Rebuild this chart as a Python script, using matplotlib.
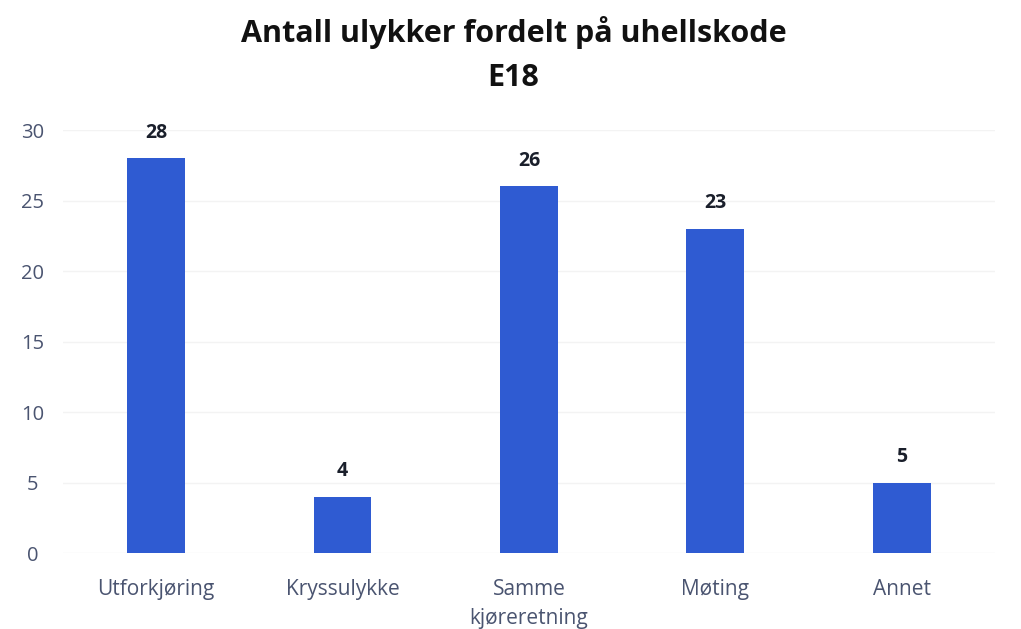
import matplotlib
matplotlib.use("Agg")
import matplotlib.pyplot as plt

categories = ["Utforkjøring", "Kryssulykke", "Samme\nkjøreretning", "Møting", "Annet"]
values = [28, 4, 26, 23, 5]
yticks = [0, 5, 10, 15, 20, 25, 30]
title = "Antall ulykker fordelt på uhellskode\nE18"

plt.rcParams['font.family'] = ['Open Sans', 'DejaVu Sans']

fig = plt.figure(figsize=(10.21, 6.29), dpi=100)
ax = fig.add_axes([0.0617, 0.1208, 0.9128, 0.6725])

x = list(range(len(categories)))
bars = ax.bar(x, values, width=0.31, color="#2f5bd2", zorder=3)
for xi, v in zip(x, values):
    ax.annotate(str(v), (xi, v), xytext=(0, 11), textcoords="offset points",
                ha="center", va="bottom", fontsize=14, fontweight="bold", color="#1a1f2b")

ax.set_xlim(-0.5, len(categories) - 0.5)
ax.set_ylim(0, 30)
ax.set_yticks(yticks)
ax.set_xticks(x)
ax.set_xticklabels(categories, linespacing=1.5)
ax.grid(axis="y", color="#f3f3f3", linewidth=1, zorder=0)
for s in ax.spines.values():
    s.set_visible(False)
ax.tick_params(axis="both", length=0, labelcolor="#4a5470")
ax.tick_params(axis="y", pad=21.6, labelsize=14.5)
ax.tick_params(axis="x", pad=19, labelsize=15)
for lbl in ax.get_yticklabels():
    lbl.set_horizontalalignment("center")

fig.suptitle(title, x=0.503, y=0.975, fontsize=22, fontweight="bold", color="#111111", linespacing=1.6)

fig.savefig("out.png", dpi=100, facecolor="white")
